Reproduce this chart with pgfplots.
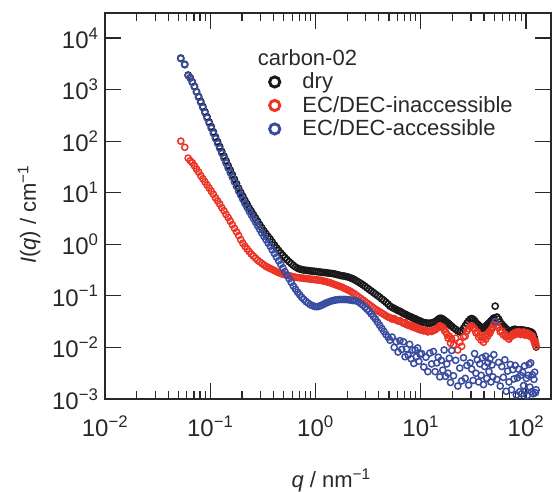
\documentclass[border=0pt]{standalone}
\usepackage{fontspec}
\setmainfont{Liberation Sans}
\usepackage{pgfplots}
\usepackage{pgfplotstable}
\pgfplotsset{compat=1.18}
\usetikzlibrary{calc}
\definecolor{cdry}{RGB}{25,25,25}
\definecolor{cin}{RGB}{236,52,38}
\definecolor{cacc}{RGB}{58,76,160}
\definecolor{axgray}{RGB}{40,40,40}

\pgfplotstableread{
q dry inacc acc
0.0525 4.07e3 1.00e2 3.98e3
0.0573 3.09e3 7.59e1 3.02e3
0.0617 1.91e3 4.68e1 1.86e3
0.0646 1.70e3 4.17e1 1.66e3
0.0676 1.41e3 3.80e1 1.38e3
0.0708 1.15e3 3.31e1 1.12e3
0.0741 9.12e2 2.88e1 8.91e2
0.0776 7.33e2 2.51e1 7.08e2
0.0813 5.89e2 2.14e1 5.62e2
0.0851 4.68e2 1.86e1 4.47e2
0.0891 3.72e2 1.62e1 3.55e2
0.0933 2.95e2 1.41e1 2.82e2
0.0977 2.34e2 1.23e1 2.24e2
0.1023 1.91e2 1.07e1 1.78e2
0.1072 1.51e2 9.33 1.41e2
0.1122 1.20e2 7.94 1.12e2
0.1175 9.77e1 6.92 9.02e1
0.1230 7.85e1 6.03 7.24e1
0.1288 6.31e1 5.13 5.82e1
0.1349 5.13e1 4.47 4.68e1
0.1413 4.17e1 3.80 3.76e1
0.1479 3.35e1 3.31 3.02e1
0.1549 2.75e1 2.82 2.45e1
0.1622 2.24e1 2.40 2.00e1
0.1698 1.82e1 2.04 1.62e1
0.1778 1.50e1 1.74 1.32e1
0.1862 1.22e1 1.48 1.07e1
0.1950 1.01e1 1.23 8.91
0.2042 8.51 1.05 7.41
0.2138 7.08 0.912 6.17
0.2239 6.03 0.813 5.19
0.2344 5.07 0.724 4.37
0.2455 4.37 0.646 3.72
0.2570 3.76 0.589 3.16
0.2692 3.24 0.537 2.69
0.2818 2.79 0.490 2.29
0.2951 2.40 0.457 1.95
0.3090 2.09 0.427 1.66
0.3236 1.82 0.398 1.43
0.3388 1.60 0.372 1.23
0.3548 1.41 0.355 1.06
0.3715 1.26 0.339 0.912
0.3890 1.10 0.324 0.776
0.4074 0.966 0.309 0.661
0.4266 0.851 0.295 0.562
0.4467 0.759 0.282 0.479
0.4677 0.676 0.272 0.407
0.4898 0.610 0.263 0.347
0.5129 0.550 0.257 0.295
0.5370 0.501 0.251 0.251
0.5623 0.457 0.245 0.214
0.5888 0.422 0.240 0.182
0.6166 0.389 0.234 0.155
0.6457 0.363 0.229 0.135
0.6761 0.343 0.226 0.1175
0.7079 0.331 0.224 0.105
0.7413 0.324 0.221 0.0933
0.7762 0.316 0.219 0.0851
0.8128 0.313 0.216 0.0776
0.8511 0.309 0.214 0.0724
0.8913 0.305 0.211 0.0676
0.9333 0.302 0.209 0.0646
0.9772 0.299 0.207 0.0624
1.023 0.295 0.204 0.0617
1.072 0.292 0.202 0.0624
1.122 0.288 0.200 0.0646
1.175 0.285 0.195 0.0676
1.230 0.282 0.191 0.0708
1.288 0.279 0.186 0.0741
1.349 0.275 0.182 0.0767
1.413 0.272 0.176 0.0794
1.479 0.269 0.170 0.0813
1.549 0.263 0.164 0.0832
1.622 0.257 0.1585 0.0841
1.698 0.251 0.153 0.0851
1.778 0.245 0.148 0.0851
1.862 0.243 0.141 0.0851
1.950 0.237 0.135 0.0851
2.042 0.232 0.129 0.0841
2.138 0.224 0.123 0.0832
2.239 0.216 0.116 0.0813
2.344 0.207 0.110 0.0813
2.455 0.195 0.102 0.0794
2.570 0.184 0.0955 0.0759
2.692 0.174 0.0891 0.0708
2.818 0.164 0.0832 0.0661
2.951 0.153 0.0776 0.0603
3.090 0.143 0.0724 0.0550
3.236 0.133 0.0676 0.0501
3.388 0.1245 0.0631 0.0447
3.548 0.116 0.0589 0.0398
3.715 0.108 0.0550 0.0355
3.890 0.101 0.0519 0.0309
4.074 0.0944 0.0490 0.0269
4.266 0.0871 0.0462 0.0234
4.467 0.0813 0.0437 0.0204
4.677 0.0750 0.0412 0.0178
4.898 0.0692 0.0389 0.01585
5.1 6.31e-2 3.80e-2 1.38e-2
5.35 5.96e-2 3.55e-2 1.585e-2
5.6 5.69e-2 3.63e-2 1.00e-2
5.85 5.43e-2 3.39e-2 1.29e-2
6.1 5.19e-2 3.24e-2 8.13e-3
6.35 5.01e-2 3.31e-2 1.35e-2
6.6 4.79e-2 3.09e-2 9.12e-3
6.85 4.57e-2 2.95e-2 1.29e-2
7.1 4.42e-2 3.02e-2 6.61e-3
7.35 4.27e-2 2.75e-2 9.33e-3
7.6 4.12e-2 2.75e-2 7.08e-3
7.85 3.98e-2 2.63e-2 1.15e-2
8.1 3.89e-2 2.69e-2 6.03e-3
8.35 3.76e-2 2.51e-2 8.91e-3
8.6 3.67e-2 2.45e-2 4.90e-3
8.85 3.59e-2 2.51e-2 8.91e-3
9.1 3.47e-2 2.34e-2 6.61e-3
9.35 3.39e-2 2.29e-2 9.77e-3
9.6 3.31e-2 2.34e-2 5.37e-3
9.85 3.24e-2 2.19e-2 7.41e-3
10.2 3.16e-2 2.19e-2 7.59e-3
10.7 3.02e-2 2.09e-2 4.17e-3
11.2 2.99e-2 2.14e-2 6.46e-3
11.7 2.95e-2 2.00e-2 3.39e-3
12.2 2.95e-2 2.09e-2 7.76e-3
12.7 2.99e-2 2.04e-2 4.79e-3
13.2 3.05e-2 2.14e-2 8.32e-3
13.7 3.16e-2 2.19e-2 3.39e-3
14.2 3.31e-2 2.34e-2 5.01e-3
14.7 3.51e-2 2.45e-2 6.46e-3
15.2 3.67e-2 2.63e-2 2.69e-3
15.7 3.67e-2 2.51e-2 5.62e-3
16.2 3.55e-2 2.45e-2 3.63e-3
16.7 3.39e-2 2.19e-2 8.91e-3
17.2 3.24e-2 2.00e-2 2.75e-3
17.7 3.09e-2 1.82e-2 4.79e-3
18.2 2.95e-2 1.51e-2 3.16e-3
18.7 2.82e-2 1.66e-2 6.17e-3
19.2 2.66e-2 1.20e-2 2.09e-3
19.7 2.57e-2 1.445e-2 8.71e-3
20.5 2.40e-2 1.12e-2 2.82e-3
21.5 2.24e-2 1.51e-2 5.62e-3
22.5 2.09e-2 8.91e-3 1.78e-3
23.5 2.00e-2 1.26e-2 3.98e-3
24.5 2.09e-2 1.05e-2 2.24e-3
25.5 2.34e-2 1.585e-2 6.31e-3
26.5 2.63e-2 1.66e-2 2.51e-3
27.5 2.95e-2 2.09e-2 4.47e-3
28.5 3.24e-2 2.29e-2 1.86e-3
29.5 3.51e-2 2.51e-2 5.01e-3
30.5 3.63e-2 2.63e-2 3.80e-3
31.5 3.51e-2 2.40e-2 2.29e-3
32.5 3.31e-2 2.29e-2 7.59e-3
33.5 3.02e-2 1.905e-2 3.16e-3
34.5 2.85e-2 2.00e-2 5.75e-3
35.5 2.69e-2 1.585e-2 2.14e-3
36.5 2.57e-2 1.74e-2 4.79e-3
37.5 2.45e-2 1.38e-2 2.88e-3
38.5 2.37e-2 1.585e-2 6.31e-3
39.5 2.34e-2 1.26e-2 1.905e-3
40.5 2.45e-2 1.66e-2 4.27e-3
41.5 2.57e-2 1.445e-2 6.76e-3
42.5 2.69e-2 1.82e-2 2.51e-3
43.5 2.82e-2 1.66e-2 5.01e-3
44.5 2.95e-2 2.00e-2 3.39e-3
45.5 3.09e-2 1.905e-2 6.03e-3
46.5 3.24e-2 2.19e-2 2.14e-3
47.5 3.39e-2 2.29e-2 4.57e-3
48.5 3.55e-2 2.51e-2 2.69e-3
49.5 3.72e-2 2.75e-2 7.24e-3
51 6.31e-2 3.16e-2 3.16e-2
53 3.89e-2 2.69e-2 2.40e-3
55 3.55e-2 2.40e-2 5.13e-3
57 3.09e-2 2.00e-2 1.78e-3
59 2.82e-2 2.09e-2 4.27e-3
61 2.63e-2 1.74e-2 2.63e-3
63 2.45e-2 1.82e-2 5.75e-3
65 2.29e-2 1.585e-2 1.41e-3
67 2.19e-2 1.66e-2 3.47e-3
69 2.04e-2 1.445e-2 2.14e-3
71 2.00e-2 1.585e-2 4.68e-3
73 2.09e-2 1.66e-2 1.51e-3
75 2.19e-2 1.82e-2 3.72e-3
77 2.24e-2 1.74e-2 2.45e-3
79 2.24e-2 1.95e-2 4.47e-3
81 2.21e-2 1.82e-2 1.20e-3
83 2.19e-2 2.00e-2 2.57e-3
85 2.14e-2 1.86e-2 3.80e-3
87 2.16e-2 2.00e-2 1.38e-3
89 2.19e-2 1.78e-2 2.88e-3
91 2.19e-2 1.905e-2 1.26e-3
93 2.16e-2 1.82e-2 3.31e-3
95 2.14e-2 2.00e-2 1.82e-3
97 2.14e-2 1.74e-2 4.37e-3
99 2.11e-2 1.86e-2 1.41e-3
101 2.09e-2 1.78e-2 2.51e-3
103 2.09e-2 1.905e-2 1.175e-3
105 2.07e-2 1.70e-2 2.88e-3
107 2.04e-2 1.82e-2 4.68e-3
109 2.02e-2 1.66e-2 1.70e-3
111 2.00e-2 1.74e-2 5.01e-3
113 1.95e-2 1.585e-2 1.38e-3
115 1.905e-2 1.66e-2 2.95e-3
117 1.78e-2 1.445e-2 1.26e-3
119 1.62e-2 1.38e-2 2.40e-3
121 1.41e-2 1.20e-2 3.31e-3
123 1.20e-2 1.26e-2 1.32e-3
125 1.02e-2 1.05e-2 1.51e-3
}\saxs

\begin{document}
\begin{tikzpicture}
\begin{axis}[
  scale only axis, width=446pt, height=386pt,
  xmode=log, ymode=log,
  xmin=0.01, xmax=173, ymin=1e-3, ymax=3.05e4,
  xtick={0.01,0.1,1,10,100},
  xticklabels={10\textsuperscript{−2},10\textsuperscript{−1},10\textsuperscript{0},10\textsuperscript{1},10\textsuperscript{2}},
  minor xtick={0.02,0.03,0.04,0.05,0.06,0.07,0.08,0.09,0.2,0.3,0.4,0.5,0.6,0.7,0.8,0.9,2,3,4,5,6,7,8,9,20,30,40,50,60,70,80,90},
  ytick={1e-3,1e-2,1e-1,1,10,100,1000,10000},
  yticklabels={10\textsuperscript{−3},10\textsuperscript{−2},10\textsuperscript{−1},10\textsuperscript{0},10\textsuperscript{1},10\textsuperscript{2},10\textsuperscript{3},10\textsuperscript{4}},
  yminorticks=false,
  tick align=inside,
  major tick length=16pt, minor tick length=8pt,
  every tick/.style={line width=1.2pt, axgray},
  axis line style={line width=1.3pt, axgray},
  ticklabel style={font=\fontsize{24}{28}\selectfont, text=axgray},
  xticklabel style={yshift=-13pt},
  yticklabel style={xshift=-3pt},
  label style={font=\fontsize{22}{26}\selectfont, text=axgray},
  xlabel={\textit{q} / nm\textsuperscript{−1}},
  ylabel={\textit{I}(\textit{q}) / cm\textsuperscript{−1}},
  xlabel style={at={(axis description cs:0.507,-0.229)}, anchor=base},
  ylabel style={at={(axis description cs:-0.155,0.478)}, anchor=base},
  legend cell align=left,
  legend image code/.code={\draw[#1, line width=2.9pt] (6.5pt,0pt) circle[radius=5.1pt]; \path (0pt,0pt) (32pt,0pt);},
  legend style={at={(axis description cs:0.3643,0.912)}, anchor=north west, draw=none, fill=none, inner sep=0pt, outer sep=0pt, row sep=0.5pt, font=\fontsize{22}{26}\selectfont, nodes={inner sep=1.5pt, text height=16.7pt, text depth=3.3pt, text=axgray}},
]
\coordinate (SW) at (rel axis cs:0,0);
\coordinate (NE) at (rel axis cs:1,1);
\addlegendimage{empty legend}
\addlegendentry{\hspace{-44.5pt}carbon-02}
\addplot[only marks, mark=o, cdry, line width=1.5pt, mark size=3.1pt, mark options={line width=1.5pt}] table[x=q, y=dry] {\saxs};
\addlegendentry{dry}
\addplot[only marks, mark=o, cin, line width=1.5pt, mark size=3.1pt, mark options={line width=1.5pt}] table[x=q, y=inacc] {\saxs};
\addlegendentry{EC/DEC-inaccessible}
\addplot[only marks, mark=o, cacc, line width=1.5pt, mark size=3.1pt, mark options={line width=1.5pt}] table[x=q, y=acc] {\saxs};
\addlegendentry{EC/DEC-accessible}
\end{axis}
\pgfresetboundingbox
\path[use as bounding box] ($(SW)+(-105pt,-93pt)$) rectangle ($(NE)+(1pt,13pt)$);
\end{tikzpicture}
\end{document}
